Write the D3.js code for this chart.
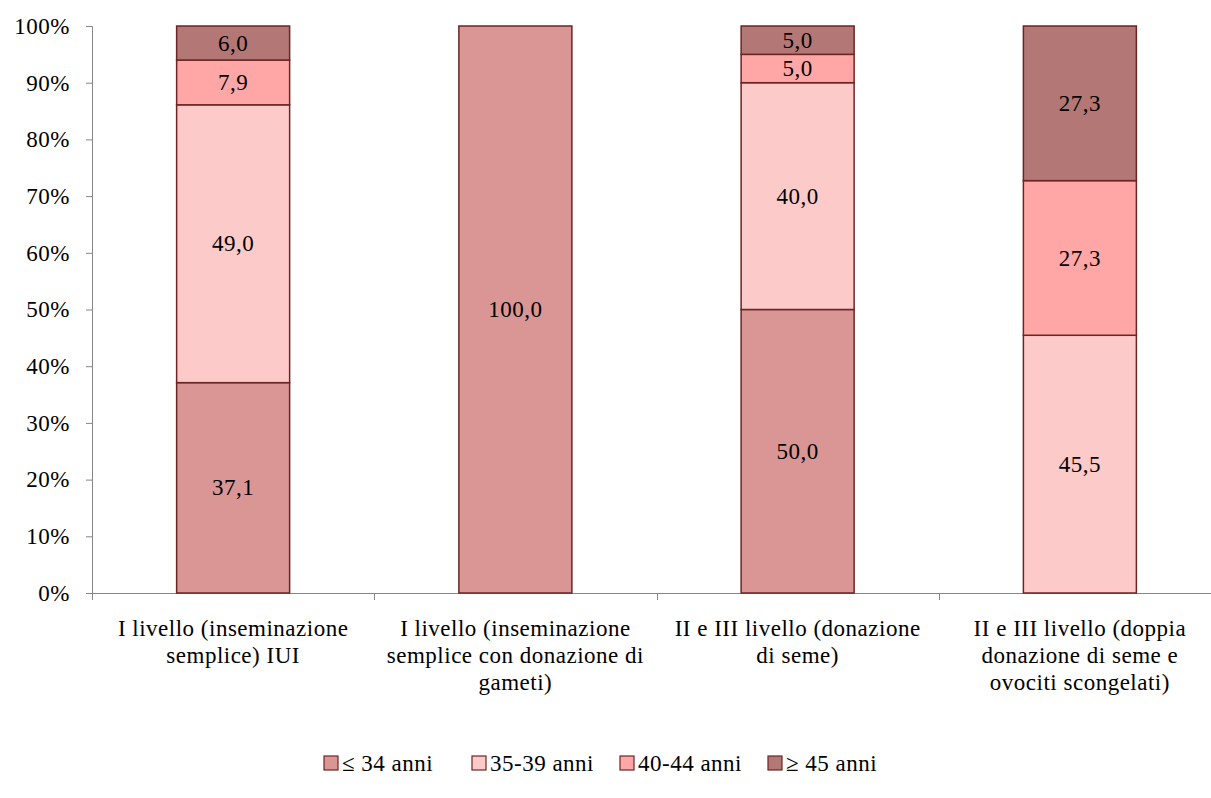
<!DOCTYPE html>
<html><head><meta charset="utf-8">
<script src="https://cdn.jsdelivr.net/npm/d3@7"></script>
<style>body{margin:0;background:#fff;} text{font-family:"Liberation Serif","DejaVu Serif",serif;fill:#000;letter-spacing:0.5px;}</style>
</head><body><svg id="c" width="1211" height="798"></svg>
<script>
const categories = [
  ["I livello (inseminazione", "semplice) IUI"],
  ["I livello (inseminazione", "semplice con donazione di", "gameti)"],
  ["II e III livello (donazione", "di seme)"],
  ["II e III livello (doppia", "donazione di seme e", "ovociti scongelati)"]
];
const seriesNames = ["≤ 34 anni", "35-39 anni", "40-44 anni", "≥ 45 anni"];
const s34 = [37.1, 100.0, 50.0, 0];
const s3539 = [49.0, 0, 40.0, 45.5];
const s4044 = [7.9, 0, 5.0, 27.3];
const s45 = [6.0, 0, 5.0, 27.3];
const yTicks = [0,10,20,30,40,50,60,70,80,90,100];
const colors = ["#D99694", "#FDCACA", "#FFA6A6", "#B37776"];

const FS = "23px";
const svg = d3.select("#c");
const x = d3.scaleBand().domain(d3.range(categories.length)).range([92, 1221]).paddingInner(0).paddingOuter(0);
const y = d3.scaleLinear().domain([0,100]).range([593, 26]);
const barW = 113;
const series = [s34, s3539, s4044, s45];

// axes
const yAxis = svg.append("g").attr("transform","translate(92,0)")
  .call(d3.axisLeft(y).tickValues(yTicks).tickSize(6).tickFormat(d=>d+"%"));
yAxis.select(".domain").attr("stroke","#868686").attr("d","M-6,26.5H0.5V593.5");
yAxis.selectAll(".tick line").attr("stroke","#868686");
yAxis.selectAll(".tick text").attr("x",-22).style("font-size",FS).style("font-family","'Liberation Serif',serif").attr("fill","#000");

const xg = svg.append("g");
xg.append("line").attr("x1",92).attr("x2",1211).attr("y1",593.5).attr("y2",593.5).attr("stroke","#868686");
d3.range(categories.length+1).forEach(i=>{
  const xx = Math.round(92 + i*x.bandwidth())+0.5;
  xg.append("line").attr("x1",xx).attr("x2",xx).attr("y1",593).attr("y2",600).attr("stroke","#868686");
});

categories.forEach((c,i)=>{
  const cx = x(i)+x.bandwidth()/2;
  let cum = 0;
  const tot = series.reduce((a,s)=>a+s[i],0);
  series.forEach((s,k)=>{
    const v = s[i];
    if (v<=0) return;
    const y0 = cum/tot*100, y1 = (cum+v)/tot*100;
    cum += v;
    svg.append("rect").attr("x",cx-barW/2).attr("width",barW)
      .attr("y",y(y1)).attr("height",y(y0)-y(y1))
      .attr("fill",colors[k]).attr("stroke","#6B2525").attr("stroke-width",1.5);
    svg.append("text").attr("x",cx).attr("y",(y(y0)+y(y1))/2).attr("dy","0.33em")
      .attr("text-anchor","middle").style("font-size",FS).text(v.toFixed(1).replace(".",","));
  });
  c.forEach((line,j)=>{
    svg.append("text").attr("x",cx).attr("y",636+j*27).attr("text-anchor","middle")
      .style("font-size",FS).text(line);
  });
});

// legend
seriesNames.forEach((n,k)=>{
  const lx = 324 + k*148;
  svg.append("rect").attr("x",lx).attr("y",756).attr("width",14).attr("height",14)
    .attr("fill",colors[k]).attr("stroke","#6B2525").attr("stroke-width",1.2);
  svg.append("text").attr("x",lx+18).attr("y",771).style("font-size",FS).text(n);
});
</script></body></html>
